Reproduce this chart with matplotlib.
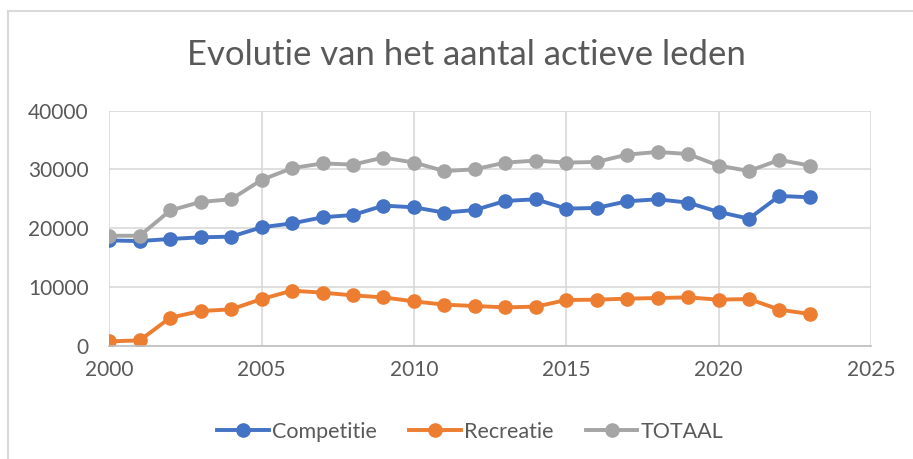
import matplotlib
matplotlib.use('Agg')
import matplotlib.pyplot as plt
from matplotlib.lines import Line2D

# jaren en ledenaantallen
years = list(range(2000, 2024))
competitie = [17900, 17800, 18150, 18430, 18550, 20140, 20800, 21840, 22230, 23820, 23540, 22630,
              23080, 24620, 24900, 23310, 23430, 24560, 24900, 24330, 22750, 21610, 25470, 25240]
recreatie = [740, 900, 4760, 5900, 6180, 7940, 9360, 9020, 8560, 8220, 7540, 6980,
             6750, 6520, 6640, 7770, 7830, 8000, 8110, 8220, 7830, 7940, 6130, 5390]
totaal = [18700, 18700, 23000, 24450, 24900, 28200, 30200, 31000, 30800, 32000, 31150, 29700,
          30000, 31140, 31480, 31140, 31250, 32500, 32950, 32600, 30630, 29720, 31600, 30630]

xticks = [2000, 2005, 2010, 2015, 2020, 2025]
yticks = [0, 10000, 20000, 30000, 40000]

plt.rcParams['font.family'] = ['Lato', 'DejaVu Sans']
txt = '#595959'
grid = '#d9d9d9'

fig = plt.figure(figsize=(9.13, 4.59), dpi=100)
ax = fig.add_axes([109.3/913, 1-345.7/459, (870.8-109.3)/913, (345.7-110.5)/459])

ax.plot(years, competitie, color='#4472C4', lw=2.8, marker='o', ms=9.5, label='Competitie')
ax.plot(years, recreatie, color='#ED7D31', lw=2.8, marker='o', ms=9.5, label='Recreatie')
ax.plot(years, totaal, color='#A5A5A5', lw=2.8, marker='o', ms=9.5, label='TOTAAL')

ax.set_xlim(2000, 2025)
ax.set_ylim(0, 40000)
ax.set_xticks(xticks)
ax.set_yticks(yticks)
ax.tick_params(length=0, labelsize=15, labelcolor=txt)
ax.tick_params(axis='y', pad=15)
ax.tick_params(axis='x', pad=10)
ax.grid(True, color=grid, lw=1.2)
ax.set_axisbelow(True)
for s in ['top', 'right', 'left']:
    ax.spines[s].set_visible(False)
ax.spines['bottom'].set_color('#bfbfbf')
ax.spines['bottom'].set_linewidth(1.2)
for lab in ax.get_xticklabels() + ax.get_yticklabels():
    lab.set_clip_on(False)

fig.text(0.511, 1-55/459, 'Evolutie van het aantal actieve leden', ha='center', va='center',
         fontsize=25, color=txt)

fig.legend(loc='center', bbox_to_anchor=(0.515, 1-432/459), ncol=3, frameon=False,
           fontsize=15.5, labelcolor=txt, handlelength=2.4, handletextpad=0.15, columnspacing=1.5)

# rand van het grafiekvak
fig.add_artist(Line2D([8/913, 8/913], [0, 1-11/459], color=grid, lw=1.5))
fig.add_artist(Line2D([8/913, 1], [1-11/459, 1-11/459], color=grid, lw=1.5))

fig.savefig('out.png', dpi=100)
